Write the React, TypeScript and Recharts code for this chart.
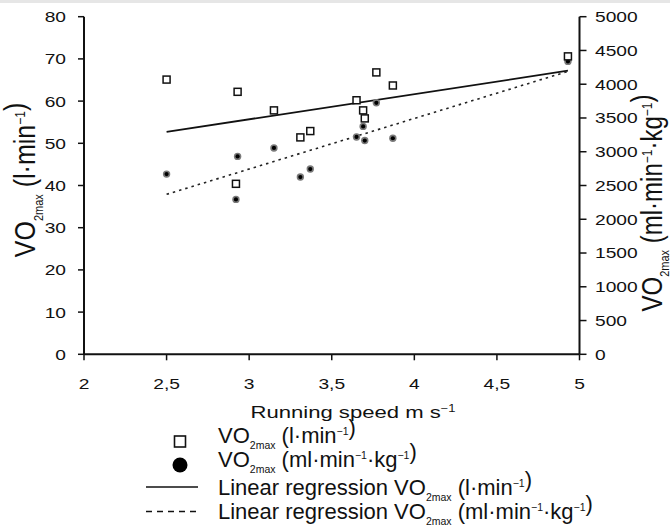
import React from "react";
import { ScatterChart, Scatter, XAxis, YAxis } from "recharts";

// running speed (m/s) for each runner
const speed = [2.5, 2.93, 3.15, 3.31, 3.37, 2.92, 3.65, 3.69, 3.7, 3.77, 3.87, 4.93];
// VO2max (l·min-1), squares, left axis
const vo2Abs = [65.1, 62.2, 57.8, 51.4, 52.9, 40.4, 60.2, 57.8, 55.9, 66.8, 63.7, 70.6];
// VO2max (ml·min-1·kg-1), dots, right axis
const vo2Rel = [2669, 2931, 3056, 2625, 2744, 2294, 3219, 3375, 3166, 3725, 3200, 4338];

// regression line end points
const fitSpeed = [2.5, 4.93];
const fitAbs = [52.7, 67.2];
const fitRel = [2369, 4190];

const xTicks = [2, 2.5, 3, 3.5, 4, 4.5, 5];
const leftTicks = [0, 10, 20, 30, 40, 50, 60, 70, 80];
const rightTicks = [0, 500, 1000, 1500, 2000, 2500, 3000, 3500, 4000, 4500, 5000];

const absData = speed.map((x, i) => ({ x, y: vo2Abs[i] }));
const relData = speed.map((x, i) => ({ x, y: vo2Rel[i] }));
const absFit = fitSpeed.map((x, i) => ({ x, y: fitAbs[i] }));
const relFit = fitSpeed.map((x, i) => ({ x, y: fitRel[i] }));

const FONT = "'Liberation Sans', Arial, sans-serif";
const INK = "#111";
const STRETCH = 1.28;

const LeftTick = (props: any) => (
  <g transform={`translate(${props.x},${props.y})`}>
    <text transform={`scale(${STRETCH},1)`} textAnchor="end" dy="0.36em" fontSize={15} fontFamily={FONT} fill={INK}>
      {props.payload.value}
    </text>
  </g>
);

const RightTick = (props: any) => (
  <g transform={`translate(${props.x},${props.y})`}>
    <text transform={`scale(${STRETCH},1)`} textAnchor="start" dy="0.36em" fontSize={15} fontFamily={FONT} fill={INK}>
      {props.payload.value}
    </text>
  </g>
);

const BottomTick = (props: any) => (
  <g transform={`translate(${props.x},${props.y})`}>
    <text transform={`scale(${STRETCH},1)`} textAnchor="middle" dy="0.71em" fontSize={15} fontFamily={FONT} fill={INK}>
      {String(props.payload.value).replace(".", ",")}
    </text>
  </g>
);

const Square = (p: any) => (
  <rect x={p.cx - 3.5} y={p.cy - 3.5} width={7} height={7} fill="#fff" stroke={INK} strokeWidth={1.5} />
);

const Dot = (p: any) => (
  <g>
    <circle cx={p.cx} cy={p.cy} r={3.7} fill="#7a7a7a" />
    <circle cx={p.cx} cy={p.cy} r={2.1} fill="#000" />
  </g>
);

const NoMark = () => <g />;

// VO2max with subscript, followed by a unit in brackets
const VoLabel = ({ size, sub, unit }: { size: number; sub: number; unit: React.ReactNode }) => (
  <>
    VO
    <tspan fontSize={sub} dy={size * 0.25}>2max</tspan>
    <tspan dy={-size * 0.25}> (</tspan>
    {unit}
    <tspan>)</tspan>
  </>
);

const unitAbs = (size: number, sub: number) => (
  <>
    <tspan>l·min</tspan>
    <tspan fontSize={sub} dy={-size * 0.35}>−1</tspan>
    <tspan dy={size * 0.35}>{""}</tspan>
  </>
);

const unitRel = (size: number, sub: number) => (
  <>
    <tspan>ml·min</tspan>
    <tspan fontSize={sub} dy={-size * 0.35}>−1</tspan>
    <tspan dy={size * 0.35}>·kg</tspan>
    <tspan fontSize={sub} dy={-size * 0.35}>−1</tspan>
    <tspan dy={size * 0.35}>{""}</tspan>
  </>
);

const Overlay = () => (
  <svg width={670} height={526} style={{ position: "absolute", left: 0, top: 0, pointerEvents: "none" }}>
    <g fontFamily={FONT} fill={INK}>
      {/* left axis title */}
      <text transform={`translate(35,180) scale(1.2,1) rotate(-90)`} textAnchor="middle" fontSize={25}>
        <VoLabel size={25} sub={11} unit={unitAbs(25, 12)} />
      </text>
      {/* right axis title */}
      <text transform={`translate(662,203) scale(1.2,1) rotate(-90)`} textAnchor="middle" fontSize={24}>
        <VoLabel size={24} sub={11} unit={unitRel(24, 12)} />
      </text>
      {/* x axis title */}
      <text transform={`translate(353,418) scale(1.3,1)`} textAnchor="middle" fontSize={17}>
        <tspan>Running speed m s</tspan>
        <tspan fontSize={10} dy={-6}>−1</tspan>
      </text>

      {/* legend */}
      <rect x={174.5} y={436} width={11} height={11} fill="#fff" stroke={INK} strokeWidth={1.6} />
      <circle cx={180} cy={465} r={7.5} fill="#000" />
      <line x1={146} x2={198} y1={487} y2={487} stroke={INK} strokeWidth={1.6} />
      <line x1={146} x2={198} y1={511.5} y2={511.5} stroke={INK} strokeWidth={1.6} strokeDasharray="6 5" />

      <text x={218} y={443} fontSize={22}>
        <VoLabel size={22} sub={10.5} unit={unitAbs(22, 10.5)} />
      </text>
      <text x={218} y={467} fontSize={22}>
        <VoLabel size={22} sub={10.5} unit={unitRel(22, 10.5)} />
      </text>
      <text x={218} y={495} fontSize={22}>
        Linear regression <VoLabel size={22} sub={10.5} unit={unitAbs(22, 10.5)} />
      </text>
      <text x={218} y={519} fontSize={22}>
        Linear regression <VoLabel size={22} sub={10.5} unit={unitRel(22, 10.5)} />
      </text>
    </g>
  </svg>
);

export default function App() {
  return (
    <div style={{ position: "absolute", left: 0, top: 0, width: 670, height: 526, background: "#fff" }}>
      <div style={{ position: "absolute", left: 0, top: 0, width: 670, height: 3, background: "#e6e6e6" }} />
      <ScatterChart width={670} height={526} margin={{ top: 16.7, right: 0, bottom: 131.7, left: 0 }}>
        <XAxis
          type="number"
          dataKey="x"
          domain={[2, 5]}
          ticks={xTicks}
          height={40}
          tick={<BottomTick />}
          tickSize={6}
          tickMargin={18}
          axisLine={{ stroke: INK, strokeWidth: 2 }}
          tickLine={{ stroke: INK, strokeWidth: 1.5 }}
        />
        <YAxis
          yAxisId="left"
          type="number"
          dataKey="y"
          domain={[0, 80]}
          ticks={leftTicks}
          width={84}
          tick={<LeftTick />}
          tickSize={6}
          tickMargin={12}
          axisLine={{ stroke: INK, strokeWidth: 2 }}
          tickLine={{ stroke: INK, strokeWidth: 1.5 }}
        />
        <YAxis
          yAxisId="right"
          orientation="right"
          type="number"
          dataKey="y"
          domain={[0, 5000]}
          ticks={rightTicks}
          width={90.5}
          tick={<RightTick />}
          tickSize={7}
          tickMargin={8.5}
          axisLine={{ stroke: INK, strokeWidth: 2 }}
          tickLine={{ stroke: INK, strokeWidth: 1.5 }}
        />
        <Scatter
          yAxisId="left"
          data={absFit}
          shape={NoMark}
          line={{ stroke: INK, strokeWidth: 1.8 }}
          isAnimationActive={false}
        />
        <Scatter
          yAxisId="right"
          data={relFit}
          shape={NoMark}
          line={{ stroke: "#222", strokeWidth: 1.6, strokeDasharray: "2.5 4" }}
          isAnimationActive={false}
        />
        <Scatter yAxisId="right" data={relData} shape={Dot} isAnimationActive={false} />
        <Scatter yAxisId="left" data={absData} shape={Square} isAnimationActive={false} />
      </ScatterChart>
      <Overlay />
    </div>
  );
}
